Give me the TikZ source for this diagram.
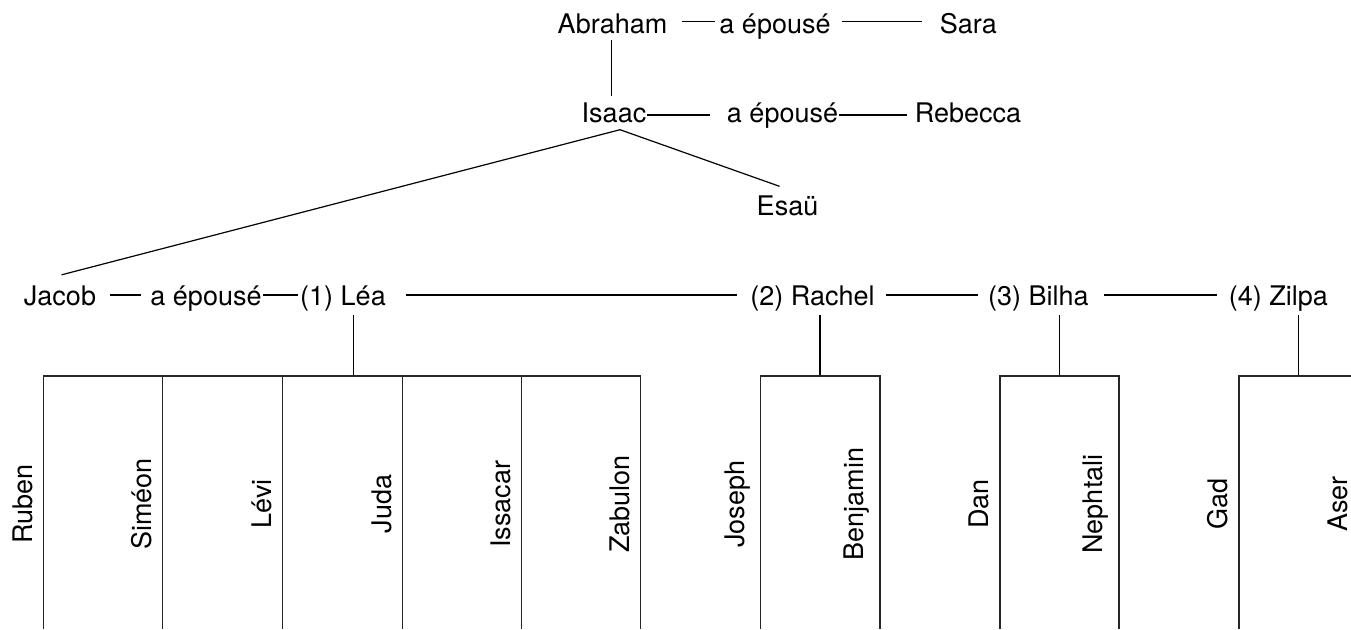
\documentclass[tikz,border=0pt]{standalone}
\usepackage{fontspec}
\setmainfont{TeX Gyre Heros}
\begin{document}
\begin{tikzpicture}[x=1pt,y=-1pt,
  every node/.style={inner sep=0pt, outer sep=0pt, font=\fontsize{27}{32}\selectfont},
  lbl/.style={anchor=base},
  kid/.style={rotate=90, anchor=south},
  link/.style={line width=1.2pt, black},
  frame/.style={line width=1.2pt, black!85}]
\useasboundingbox (0,0) rectangle (1351,629);
\clip (0,0) rectangle (1351,629);

% generation nodes
\node[lbl] (abr) at (612.5,33.3) {Abraham};
\node[lbl] (ep1) at (775,33.3) {a épousé};
\node[lbl] (sara) at (968.3,33.3) {Sara};
\node[lbl] (isaac) at (614,122.3) {Isaac};
\node[lbl] (ep2) at (782.5,122.3) {a épousé};
\node[lbl] (rebecca) at (968,122.3) {Rebecca};
\node[lbl] (esau) at (787.5,215) {Esaü};
\node[lbl] (jacob) at (60,305) {Jacob};
\node[lbl] (ep3) at (206,305) {a épousé};
\node[lbl] (lea) at (343,305) {(1) Léa};
\node[lbl] (rachel) at (812.5,305) {(2) Rachel};
\node[lbl] (bilha) at (1038.3,305) {(3) Bilha};
\node[lbl] (zilpa) at (1278.3,305) {(4) Zilpa};

% marriage connectors
\draw[link, shorten <=15pt, shorten >=4pt] ([yshift=11.6pt]abr.base east) -- ([yshift=11.6pt]ep1.base west);
\draw[link, shorten <=11.7pt, shorten >=18.3pt] ([yshift=11.6pt]ep1.base east) -- ([yshift=11.6pt]sara.base west);
\draw[link, shorten <=0.5pt, shorten >=16.6pt] ([yshift=7.3pt]isaac.base east) -- ([yshift=7.3pt]ep2.base west);
\draw[link, shorten <=0.5pt, shorten >=8.3pt] ([yshift=7.3pt]ep2.base east) -- ([yshift=7.3pt]rebecca.base west);
\draw[link, shorten <=14pt, shorten >=9pt] ([yshift=10pt]jacob.base east) -- ([yshift=10pt]ep3.base west);
\draw[link, shorten <=1.5pt, shorten >=2.5pt] ([yshift=10pt]ep3.base east) -- ([yshift=10pt]lea.base west);
\draw[link, shorten <=20pt, shorten >=13.4pt] ([yshift=10pt]lea.base east) -- ([yshift=10pt]rachel.base west);
\draw[link, shorten <=11.7pt, shorten >=10pt] ([yshift=10pt]rachel.base east) -- ([yshift=10pt]bilha.base west);
\draw[link, shorten <=15pt, shorten >=11.7pt] ([yshift=10pt]bilha.base east) -- ([yshift=10pt]zilpa.base west);

% descent connectors
\draw[link, shorten <=6.7pt, shorten >=6.2pt] ([xshift=-0.8pt]abr.south) -- ([xshift=-0.8pt]abr.south |- isaac.north);
\coordinate (apex) at ([xshift=6pt,yshift=-7pt]isaac.south);
\draw[link] (apex) -- ([xshift=1.6pt,yshift=10.5pt]jacob.north);
\draw[link] (apex) -- ([xshift=-8pt,yshift=9pt]esau.north);

% drops to children
\coordinate (leaJ) at (353.3,376);
\coordinate (rachelJ) at (820,376);
\coordinate (bilhaJ) at (1059.3,376);
\coordinate (zilpaJ) at (1298.3,376);
\draw[link, shorten <=4.3pt] (lea.south -| leaJ) -- (leaJ);
\draw[link, shorten <=4.3pt] (rachel.south -| rachelJ) -- (rachelJ);
\draw[link, shorten <=4.3pt] (bilha.south -| bilhaJ) -- (bilhaJ);
\draw[link, shorten <=4.3pt] (zilpa.south -| zilpaJ) -- (zilpaJ);

% children frames
\draw[frame] (43.3,629) -- (43.3,376) -- (640.7,376) -- (640.7,629);
\foreach \xx in {162.7,282.7,402.3,521.7}
  \draw[frame] (\xx,376) -- (\xx,629);
\draw[frame] (760.7,629) -- (760.7,376) -- (880,376) -- (880,629);
\draw[frame] (1000,629) -- (1000,376) -- (1119,376) -- (1119,629);
\draw[frame] (1239,629) -- (1239,376) -- (1358.5,376) -- (1358.5,629);

% children
\node[kid] (ruben) at (32.6,504) {Ruben};
\node[kid] (simeon) at (152,504) {Siméon};
\node[kid] (levi) at (272,504) {Lévi};
\node[kid] (juda) at (391.6,504) {Juda};
\node[kid] (issacar) at (511,504) {Issacar};
\node[kid] (zabulon) at (630,504) {Zabulon};
\node[kid] (joseph) at (750,504) {Joseph};
\node[kid] (benjamin) at (869.3,504) {Benjamin};
\node[kid] (dan) at (989.3,504) {Dan};
\node[kid] (nephtali) at (1108.3,504) {Nephtali};
\node[kid] (gad) at (1228.3,504) {Gad};
\node[kid] (aser) at (1347.8,504) {Aser};
\end{tikzpicture}
\end{document}
